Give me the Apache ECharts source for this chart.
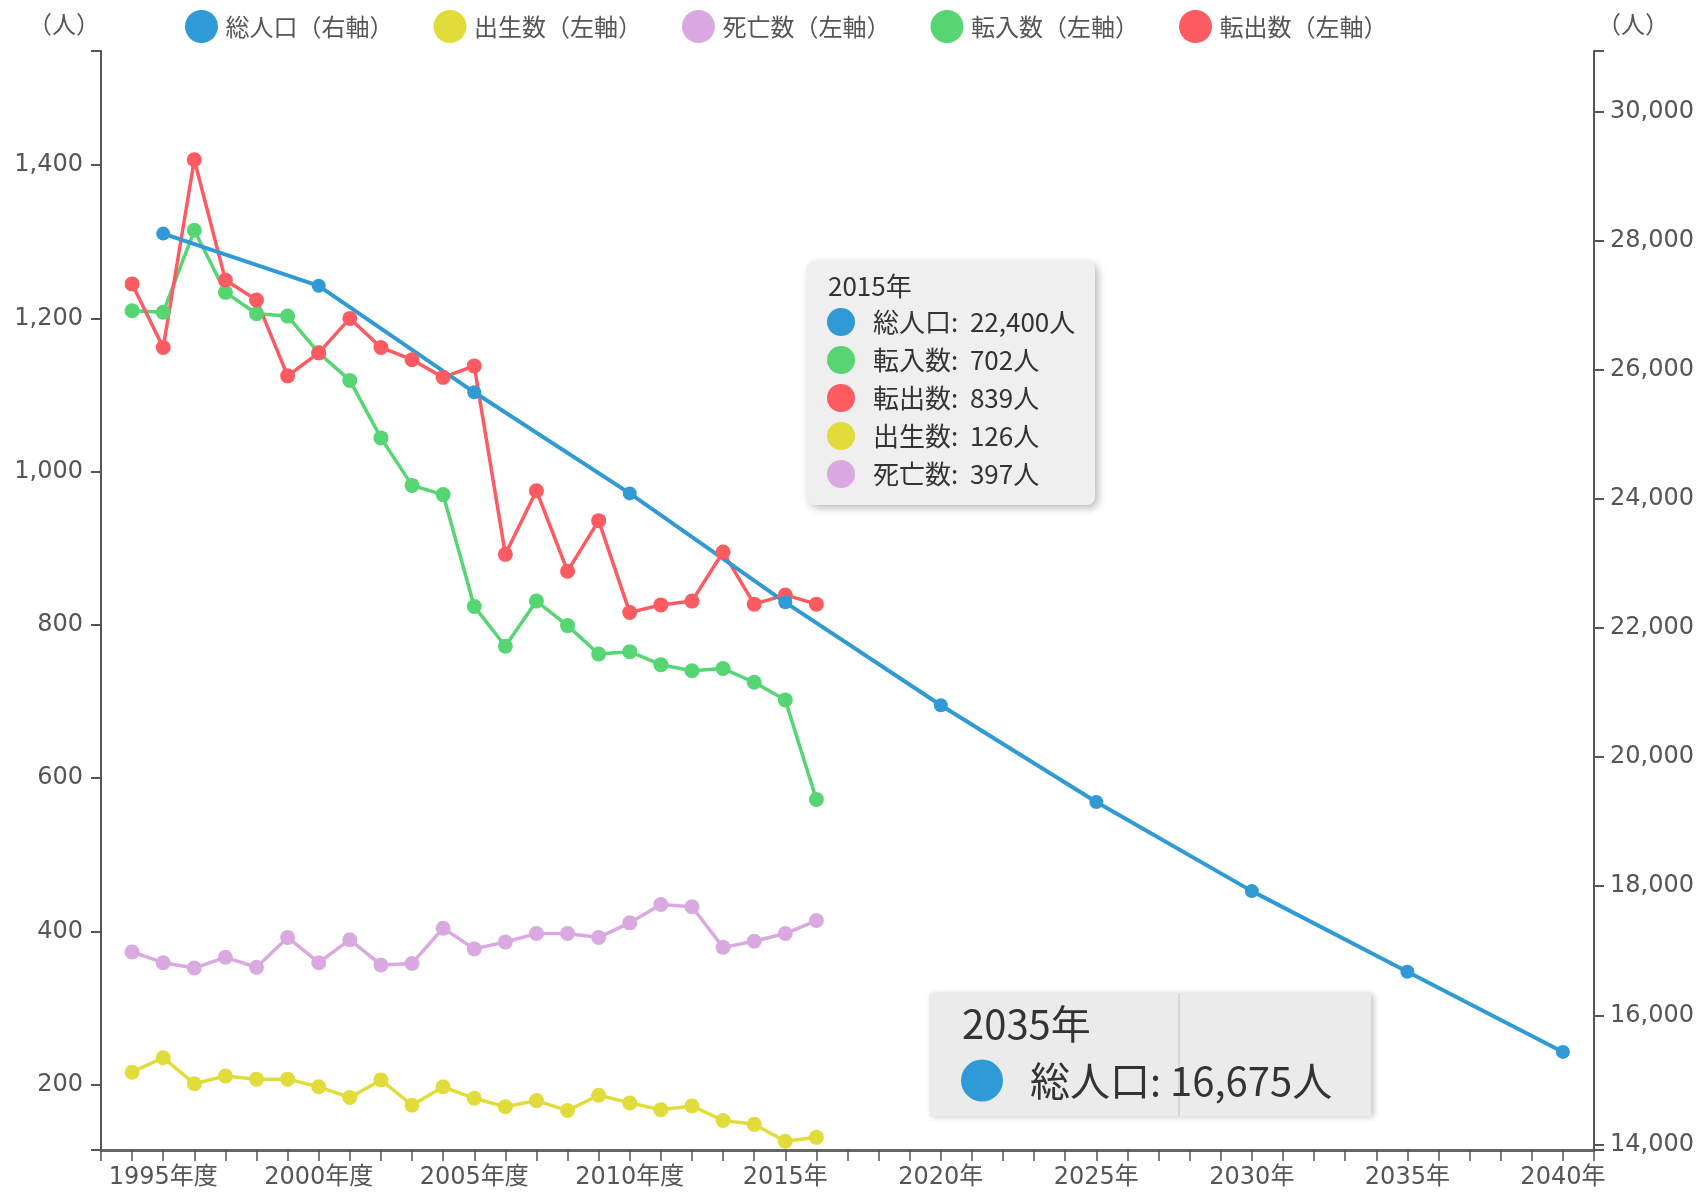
<!DOCTYPE html>
<html><head><meta charset="utf-8">
<script src="https://cdn.jsdelivr.net/npm/echarts@6/dist/echarts.min.js"></script>
<style>html,body{margin:0;padding:0;background:#fff}#c{width:1704px;height:1192px}</style>
</head><body><div id="c"></div>
<script>
// ---- data ----
const years = [1994,1995,1996,1997,1998,1999,2000,2001,2002,2003,2004,2005,2006,2007,2008,2009,2010,2011,2012,2013,2014,2015,2016];
const births   = [216,235,201,211,207,207,197,183,206,173,197,182,171,179,166,186,176,167,172,153,148,126,131];
const deaths   = [373,359,352,366,353,392,359,389,356,358,404,377,386,397,397,392,411,435,432,379,387,397,414];
const movesIn  = [1210,1208,1315,1234,1206,1203,1155,1119,1044,982,970,824,772,831,799,762,765,748,740,743,725,702,572];
const movesOut = [1245,1162,1407,1250,1224,1125,1155,1200,1162,1146,1123,1138,892,975,870,936,816,826,831,895,827,839,827];
const popYears   = [1995,2000,2005,2010,2015,2020,2025,2030,2035,2040];
const population = [28114,27305,25655,24088,22400,20804,19305,17924,16675,15432];
const leftTicks  = [200,400,600,800,1000,1200,1400];
const rightTicks = [14000,16000,18000,20000,22000,24000,26000,28000,30000];
const xLabelYears = [1995,2000,2005,2010,2015,2020,2025,2030,2035,2040];
const xTickLabels = ['1995年度','2000年度','2005年度','2010年度','2015年','2020年','2025年','2030年','2035年','2040年'];
const legendNames = ['総人口（右軸）','出生数（左軸）','死亡数（左軸）','転入数（左軸）','転出数（左軸）'];
const unitLabel = '（人）';

const C = {pop:'#2f9ad5', birth:'#e2dc3b', death:'#daa9e1', inn:'#55d672', out:'#fd5b62'};
const FF = "'DejaVu Sans','Noto Sans CJK JP',sans-serif";
const JF = "'Noto Sans CJK JP',sans-serif";

const LMIN = 114.5, LMAX = 1549, RMIN = 13912, RMAX = 30944;
const fmt = v => Number(v).toLocaleString('en-US');

function lineSeries(name, xs, ys, color, yi, size, w) {
  return {
    name, type:'line', yAxisIndex: yi,
    data: xs.map((x,i)=>[x, ys[i]]),
    symbol:'circle', symbolSize: size, showSymbol:true,
    lineStyle:{color, width:w}, itemStyle:{color},
    emphasis:{disabled:true}, animation:false
  };
}

const i15 = years.indexOf(2015);
const p15 = population[popYears.indexOf(2015)];
const p35 = population[popYears.indexOf(2035)];
const rows = [
  ['総人口', p15, C.pop], ['転入数', movesIn[i15], C.inn], ['転出数', movesOut[i15], C.out],
  ['出生数', births[i15], C.birth], ['死亡数', deaths[i15], C.death]
];
const box1Children = [
  {type:'rect', shape:{x:0,y:0,width:288,height:244,r:8},
   style:{fill:'#efefef', shadowBlur:8, shadowColor:'rgba(0,0,0,0.28)', shadowOffsetX:3, shadowOffsetY:3}},
  {type:'text', x:21, y:25, style:{text:'2015年', font:"26px "+JF, fill:'#333', verticalAlign:'middle'}}
];
rows.forEach((r,k)=>{
  const cy = 61 + k*38;
  box1Children.push({type:'circle', shape:{cx:34, cy, r:14}, style:{fill:r[2]}});
  box1Children.push({type:'text', x:66, y:cy, style:{text:r[0]+':  '+fmt(r[1])+'人', font:"26px "+JF, fill:'#333', verticalAlign:'middle'}});
});

const chart = echarts.init(document.getElementById('c'), null, {renderer:'canvas'});
chart.setOption({
  animation:false,
  backgroundColor:'#fff',
  grid:{left:101, right:110, top:51, bottom:42, containLabel:false},
  legend:{
    data: legendNames, left:180, top:5, icon:'circle',
    itemWidth:38, itemHeight:33, itemGap:40,
    textStyle:{fontSize:24, color:'#555', fontFamily:JF},
    selectedMode:false
  },
  xAxis:{
    type:'value', min:1993, max:2041, interval:1,
    axisLine:{show:true, lineStyle:{color:'#666', width:3}},
    axisTick:{show:true, length:11, lineStyle:{color:'#555', width:1.5}},
    axisLabel:{
      margin:16, fontSize:24, color:'#555', fontFamily:FF,
      formatter: v => { const k = xLabelYears.indexOf(v); return k >= 0 ? xTickLabels[k] : ''; }
    },
    splitLine:{show:false}
  },
  yAxis:[
    { type:'value', position:'left', min:LMIN, max:LMAX,
      axisLine:{show:true, lineStyle:{color:'#555', width:2}},
      axisTick:{show:true, length:10, customValues:[LMIN].concat(leftTicks,[LMAX]), lineStyle:{color:'#555', width:2}},
      axisLabel:{customValues:leftTicks, margin:18, fontSize:24, color:'#555', fontFamily:FF, formatter:v=>fmt(v)},
      splitLine:{show:false}
    },
    { type:'value', position:'right', min:RMIN, max:RMAX,
      axisLine:{show:true, lineStyle:{color:'#555', width:2}},
      axisTick:{show:true, length:10, customValues:[RMIN].concat(rightTicks,[RMAX]), lineStyle:{color:'#555', width:2}},
      axisLabel:{customValues:rightTicks, margin:16, fontSize:24, color:'#555', fontFamily:FF, formatter:v=>fmt(v)},
      splitLine:{show:false}
    }
  ],
  series:[
    lineSeries(legendNames[1], years, births, C.birth, 0, 15, 3.5),
    lineSeries(legendNames[2], years, deaths, C.death, 0, 15, 3.5),
    lineSeries(legendNames[3], years, movesIn, C.inn, 0, 15, 3.5),
    lineSeries(legendNames[4], years, movesOut, C.out, 0, 15, 3.5),
    lineSeries(legendNames[0], popYears, population, C.pop, 1, 14, 4)
  ],
  graphic:[
    {type:'text', left:null, x:64, y:24, z:100, style:{text:unitLabel, font:"24px "+JF, fill:'#555', align:'center', verticalAlign:'middle'}},
    {type:'text', x:1633, y:24, z:100, style:{text:unitLabel, font:"24px "+JF, fill:'#555', align:'center', verticalAlign:'middle'}},
    {type:'group', left:807, top:261, children: box1Children, z:100},
    {type:'group', left:929, top:991, z:100, children:[
      {type:'rect', shape:{x:0,y:0,width:442,height:123},
       style:{fill:'#ebebeb', shadowBlur:6, shadowColor:'rgba(0,0,0,0.22)', shadowOffsetX:3, shadowOffsetY:0}},
      {type:'line', shape:{x1:250,y1:0,x2:250,y2:123}, style:{stroke:'#cfcfcf', lineWidth:1.5}},
      {type:'text', x:33, y:30, style:{text:'2035年', font:"40px "+JF, fill:'#333', verticalAlign:'middle'}},
      {type:'circle', shape:{cx:53, cy:87, r:21}, style:{fill:C.pop}},
      {type:'text', x:101, y:87, style:{text:'総人口: '+fmt(p35)+'人', font:"40px "+JF, fill:'#333', verticalAlign:'middle'}}
    ]}
  ]
});
</script></body></html>
